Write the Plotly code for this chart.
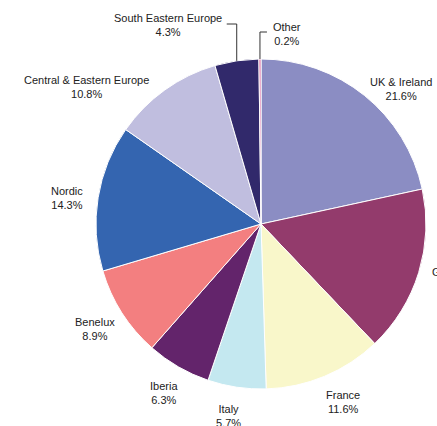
import math
import plotly.graph_objects as go

# Revenue split by region (%)
regions = ["UK & Ireland", "Germany", "France", "Italy", "Iberia", "Benelux",
           "Nordic", "Central & Eastern Europe", "South Eastern Europe", "Other"]
shares = [21.6, 16.3, 11.6, 5.7, 6.3, 8.9, 14.3, 10.8, 4.3, 0.2]
colors = ["#8B8DC3", "#933B6C", "#F9F7CA", "#C4E8F0", "#63246B", "#F37F80",
          "#3465B0", "#C0BEDF", "#31296B", "#D9609A"]

# ---- layout geometry (pixels) ----
W, H = 437, 426
MARGIN = dict(l=96, r=11, t=59, b=37)
SIDE = W - MARGIN["l"] - MARGIN["r"]          # square pie domain
R = SIDE / 2
CX, CY = MARGIN["l"] + R, MARGIN["t"] + R

FONT = dict(family="Liberation Sans, Arial, sans-serif", size=11, color="#222222")

# radial distance of label centre (px) and angular tweak (deg) per slice
label_place = {
    "UK & Ireland": (195, 7.2),
    "Germany": (202, -1.4),
    "France": (196.5, -2.1),
    "Italy": (195, 1.1),
    "Iberia": (195, -0.3),
    "Benelux": (196, 0.2),
    "Nordic": (196, -1.6),
    "Central & Eastern Europe": (222, -16.2),
}
# small slices at the top get elbow leader lines
callouts = {
    "South Eastern Europe": dict(elbow_y=24, run=-10, gap=3),
    "Other": dict(elbow_y=32, run=7, gap=4),
}


def to_paper(px, py):
    return (px - MARGIN["l"]) / SIDE, 1 - (py - MARGIN["t"]) / SIDE


def polar(angle_deg, dist):
    a = math.radians(angle_deg)
    return CX + dist * math.sin(a), CY - dist * math.cos(a)


fig = go.Figure(go.Pie(
    labels=regions,
    values=shares,
    sort=False,
    direction="clockwise",
    rotation=0,
    textinfo="none",
    marker=dict(colors=colors, line=dict(color="#FFFFFF", width=1)),
    domain=dict(x=[0, 1], y=[0, 1]),
    showlegend=False,
))

total = sum(shares)
annotations, shapes = [], []
cum = 0.0
for name, val in zip(regions, shares):
    mid = (cum + val / 2) / total * 360
    cum += val
    text = f"{name}<br>{val:.1f}%"
    if name in callouts:
        c = callouts[name]
        sx, sy = polar(mid, R)
        ex = sx + c["run"]
        p0, p1, p2 = to_paper(sx, sy), to_paper(sx, c["elbow_y"]), to_paper(ex, c["elbow_y"])
        shapes.append(dict(
            type="path", xref="paper", yref="paper",
            path=f"M {p0[0]},{p0[1]} L {p1[0]},{p1[1]} L {p2[0]},{p2[1]}",
            line=dict(color="#333333", width=1),
        ))
        side = -1 if c["run"] < 0 else 1
        lx, ly = to_paper(ex + side * c["gap"], c["elbow_y"] + 1.5)
        annotations.append(dict(
            x=lx, y=ly, xref="paper", yref="paper", text=text, showarrow=False,
            xanchor="right" if side < 0 else "left", yanchor="middle",
            align="center", font=FONT,
        ))
    else:
        dist, tweak = label_place[name]
        lx, ly = to_paper(*polar(mid + tweak, dist))
        annotations.append(dict(
            x=lx, y=ly, xref="paper", yref="paper", text=text, showarrow=False,
            xanchor="center", yanchor="middle", align="center", font=FONT,
        ))

fig.update_layout(
    width=W, height=H,
    margin=MARGIN,
    paper_bgcolor="#FFFFFF",
    plot_bgcolor="#FFFFFF",
    showlegend=False,
    annotations=annotations,
    shapes=shapes,
)

fig.write_html("out.html")
